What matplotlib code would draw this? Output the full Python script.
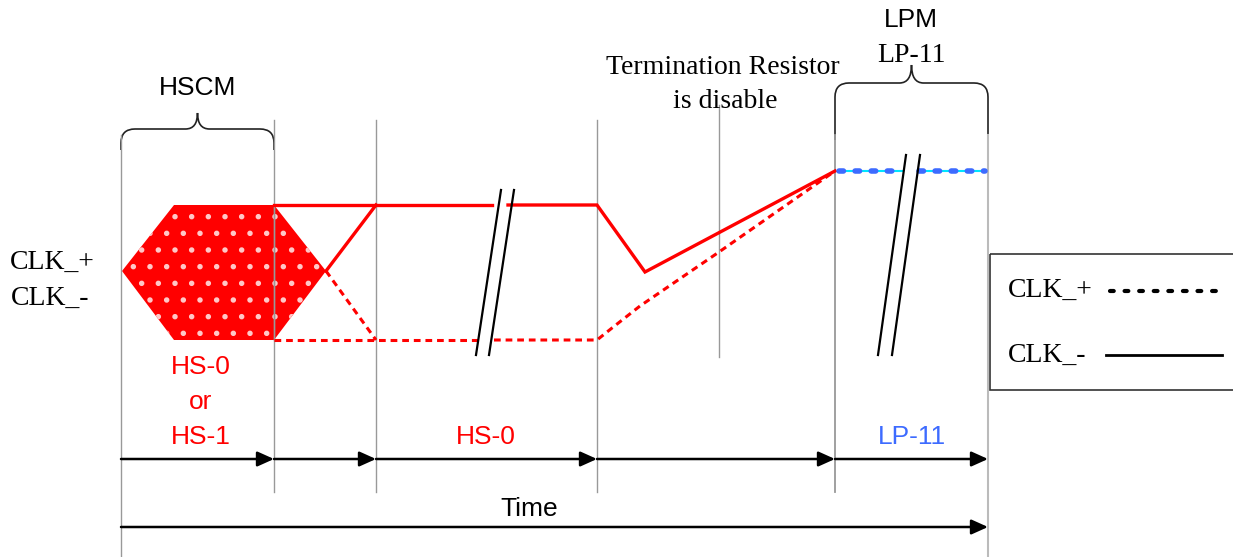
import matplotlib
matplotlib.use("Agg")
import matplotlib.pyplot as plt
from matplotlib.patches import Polygon, Rectangle
from matplotlib.path import Path
from matplotlib.patches import PathPatch

# -----------------------------------------------------------------
# Diagram values (pixel-like units, y grows downward)
# -----------------------------------------------------------------
t_marks = [121, 274, 376, 597, 835, 988]      # phase boundaries
t_term = 719                                    # termination marker
y_high, y_mid, y_low, y_lp = 205, 271, 340, 171

# HS-0 / HS-1 eye (hexagon)
hex_x = [122, 174, 274, 326, 274, 174]
hex_y = [y_mid, y_high, y_high, y_mid, y_low, y_low]

# CLK_- (solid red)
neg_x = [274, 376, 492]
neg_y = [y_high, y_high, y_high]
neg2_x = [508, 597, 645, 835]
neg2_y = [y_high, y_high, 272, y_lp]
edge_x = [326, 376]
edge_y = [y_mid, y_high]

# CLK_+ (dotted red)
pos_x = [274, 376, 480]
pos_y = [y_low, y_low, y_low]
pos2_x = [494, 597, 612, 640, 719, 835]
pos2_y = [y_low, y_low, 328, 306, 252, y_lp]
pedge_x = [326, 376]
pedge_y = [y_mid, y_low]

# LP-11 (blue)
lp_x = [[839, 903], [919, 985]]

# break marks: (top x, top y, bottom x, bottom y)
breaks = [(501, 190, 476, 355), (514, 190, 489, 355),
          (906, 155, 878, 355), (920, 155, 892, 355)]

RED = "#ff0000"
BLUE = "#3d6bff"
GRAY = "#999999"

fig = plt.figure(figsize=(12.33, 5.57), dpi=100)
ax = fig.add_axes([0, 0, 1, 1])
ax.set_xlim(0, 1233)
ax.set_ylim(557, 0)
ax.axis("off")

# vertical guide lines
ax.plot([121, 121], [135, 557], color=GRAY, lw=1)
for x in t_marks[1:4]:
    ax.plot([x, x], [120, 492], color=GRAY, lw=1)
ax.plot([835, 835], [135, 492], color=GRAY, lw=1.3)
ax.plot([988, 988], [135, 557], color="#bbbbbb", lw=1.5)
ax.plot([t_term, t_term], [105, 357], color=GRAY, lw=1)

# hexagon with dotted pattern
plt.rcParams["hatch.linewidth"] = 1.5
hexagon = Polygon(list(zip(hex_x, hex_y)), closed=True, facecolor=RED,
                  edgecolor="#ffc8c8", hatch=".", lw=0)
ax.add_patch(hexagon)
ax.plot([274, 274], [y_high, y_low], color=GRAY, lw=1)

# red transitions
for xs, ys in [(neg_x, neg_y), (neg2_x, neg2_y), (edge_x, edge_y)]:
    ax.plot(xs, ys, color=RED, lw=2.4, solid_joinstyle="miter")
for xs, ys in [(pos_x, pos_y), (pos2_x, pos2_y), (pedge_x, pedge_y)]:
    ax.plot(xs, ys, color=RED, lw=2.2, linestyle=(0, (2.2, 1.6)))

# LP-11 blue dashed over cyan
for xs in lp_x:
    ax.plot(xs, [y_lp, y_lp], color="#00e5ff", lw=1.5)
    ax.plot(xs, [y_lp, y_lp], color=BLUE, lw=4, linestyle=(0, (0.8, 2.1)),
            dash_capstyle="round")

# break marks
for x0, y0, x1, y1 in breaks:
    ax.plot([x0, x1], [y0, y1], color="black", lw=1.6)


# braces
def brace(x0, x1, y_end, y_bar, y_tip):
    xm = (x0 + x1) / 2
    r = 14
    verts = [(x0, y_end), (x0, y_bar + r), (x0, y_bar), (x0 + r, y_bar),
             (xm - 12, y_bar), (xm, y_bar), (xm, y_tip),
             (xm, y_bar), (xm + 12, y_bar),
             (x1 - r, y_bar), (x1, y_bar), (x1, y_bar + r), (x1, y_end)]
    codes = [Path.MOVETO, Path.LINETO, Path.CURVE3, Path.CURVE3,
             Path.LINETO, Path.CURVE3, Path.CURVE3,
             Path.CURVE3, Path.CURVE3,
             Path.LINETO, Path.CURVE3, Path.CURVE3, Path.LINETO]
    ax.add_patch(PathPatch(Path(verts, codes), fill=False,
                           edgecolor="#222222", lw=1.2))


brace(121, 274, 150, 129, 113)
brace(835, 988, 140, 83, 65)

# arrows
arrow_kw = dict(arrowstyle="-|>,head_length=1.0,head_width=0.45",
                color="black", lw=1.8, shrinkA=0, shrinkB=0)
for a, b in zip(t_marks[:-1], t_marks[1:]):
    ax.annotate("", xy=(b, 459), xytext=(a, 459), arrowprops=arrow_kw)
ax.annotate("", xy=(988, 527), xytext=(121, 527), arrowprops=arrow_kw)

# text
SANS = "Liberation Sans"
SERIF = "Liberation Serif"
ax.text(198, 88, "HSCM", fontsize=19, family=SANS, ha="center", va="center")
ax.text(911, 20, "LPM", fontsize=19, family=SANS, ha="center", va="center")
ax.text(911, 55, "LP-11", fontsize=20, family=SERIF, ha="center", va="center")
ax.text(723, 68, "Termination Resistor", fontsize=20, family=SERIF,
        ha="center", va="center")
ax.text(725, 102, "is disable", fontsize=20, family=SERIF,
        ha="center", va="center")
ax.text(52, 262, "CLK_+", fontsize=20, family=SERIF, ha="center", va="center")
ax.text(50, 298, "CLK_-", fontsize=20, family=SERIF, ha="center", va="center")
ax.text(201, 367, "HS-0", fontsize=19, family=SANS, color=RED,
        ha="center", va="center")
ax.text(201, 402, "or", fontsize=19, family=SANS, color=RED,
        ha="center", va="center")
ax.text(201, 437, "HS-1", fontsize=19, family=SANS, color=RED,
        ha="center", va="center")
ax.text(486, 437, "HS-0", fontsize=19, family=SANS, color=RED,
        ha="center", va="center")
ax.text(912, 437, "LP-11", fontsize=19, family=SANS, color=BLUE,
        ha="center", va="center")
ax.text(529, 509, "Time", fontsize=19, family=SANS, ha="center", va="center")

# legend box
ax.add_patch(Rectangle((990, 254), 260, 136, fill=False,
                       edgecolor="#333333", lw=1.2))
ax.text(1050, 290, "CLK_+", fontsize=20, family=SERIF, ha="center",
        va="center")
ax.text(1047, 355, "CLK_-", fontsize=20, family=SERIF, ha="center",
        va="center")
ax.plot([1110, 1220], [291, 291], color="black", lw=3,
        linestyle=(0, (0.9, 2.6)), dash_capstyle="round")
ax.plot([1106, 1222], [355, 355], color="black", lw=2)

fig.savefig("out.png", dpi=100)
